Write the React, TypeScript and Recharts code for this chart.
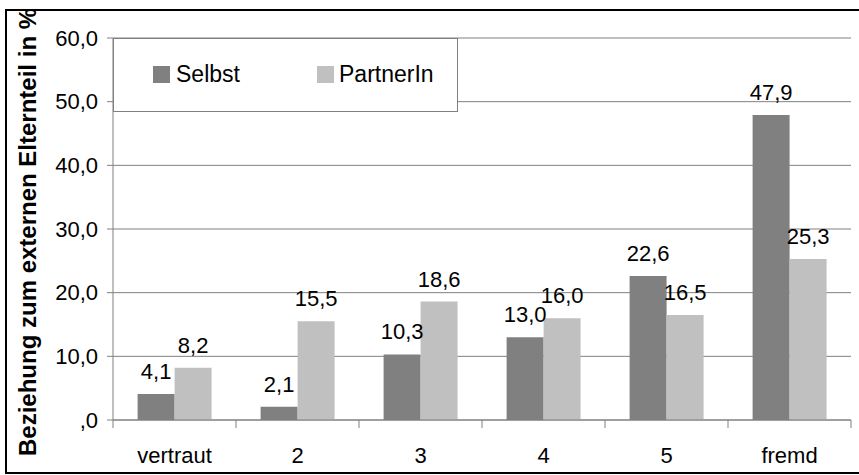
import React from 'react';
import { BarChart, Bar, XAxis, YAxis, CartesianGrid, Legend, LabelList } from 'recharts';

const categories = ['vertraut', '2', '3', '4', '5', 'fremd'];
const selbst = [4.1, 2.1, 10.3, 13.0, 22.6, 47.9];
const partnerIn = [8.2, 15.5, 18.6, 16.0, 16.5, 25.3];
const yTicks = [0, 10, 20, 30, 40, 50, 60];
const seriesNames = ['Selbst', 'PartnerIn'];
const seriesColors = ['#808080', '#c0c0c0'];
const yTitle = 'Beziehung zum externen Elternteil in %';

const data = categories.map((c, i) => ({ name: c, Selbst: selbst[i], PartnerIn: partnerIn[i] }));

const W = 859;
const H = 475;
const margin = { top: 38, right: 8, bottom: 25, left: 53 };
const Y_W = 60;
const plotLeft = margin.left + Y_W;
const plotW = W - plotLeft - margin.right;
const band = plotW / categories.length;
const FONT = 'Arial, "Liberation Sans", sans-serif';

const fmt = (v: number) => (v === 0 ? ',0' : v.toFixed(1).replace('.', ','));

const XTick = (props: any) => {
  const { x, y, payload } = props;
  const half = band / 2;
  const isLast = payload.value === categories[categories.length - 1];
  return (
    <g>
      <line x1={x - half} x2={x - half} y1={y} y2={y + 8} stroke="#808080" strokeWidth={1} />
      {isLast && <line x1={x + half} x2={x + half} y1={y} y2={y + 8} stroke="#808080" strokeWidth={1} />}
      <text x={x} y={y + 43} textAnchor="middle" fontSize={22} fill="#000" fontFamily={FONT}>
        {payload.value}
      </text>
    </g>
  );
};

const TitleLabel = () => {
  const cx = 36;
  const cy = 232;
  return (
    <text
      x={cx}
      y={cy}
      transform={`rotate(-90, ${cx}, ${cy})`}
      textAnchor="middle"
      fontSize={24}
      fontWeight="bold"
      fill="#000"
      fontFamily={FONT}
    >
      {yTitle}
    </text>
  );
};

const LegendBox = () => {
  const items = [
    { sq: 40, tx: 63 },
    { sq: 204, tx: 226 },
  ];
  return (
    <div
      style={{
        width: 345,
        height: 74,
        boxSizing: 'border-box',
        border: '1px solid #808080',
        background: '#fff',
        position: 'relative',
        fontFamily: FONT,
        fontSize: 23,
        color: '#000',
      }}
    >
      {seriesNames.map((n, i) => (
        <React.Fragment key={n}>
          <div
            style={{
              position: 'absolute',
              left: items[i].sq - 1,
              top: 27,
              width: 17,
              height: 17,
              background: seriesColors[i],
            }}
          />
          <div
            style={{
              position: 'absolute',
              left: items[i].tx - 1,
              top: 20,
              lineHeight: '30px',
              whiteSpace: 'nowrap',
            }}
          >
            {n}
          </div>
        </React.Fragment>
      ))}
    </div>
  );
};

export default function App() {
  return (
    <div style={{ position: 'absolute', left: 0, top: 0, width: W, height: H, background: '#fff' }}>
      <div
        style={{
          position: 'absolute',
          left: 5,
          top: 9,
          width: W - 5,
          height: 465,
          boxSizing: 'border-box',
          borderTop: '2px solid #000',
          borderLeft: '2px solid #000',
          borderBottom: '2px solid #000',
          overflow: 'hidden',
        }}
      >
        <div style={{ position: 'absolute', left: -7, top: -11 }}>
          <BarChart
            width={W}
            height={H}
            data={data}
            margin={margin}
            barCategoryGap="20%"
            barGap={0}
          >
            <CartesianGrid vertical={false} stroke="#808080" strokeWidth={1} />
            <XAxis
              dataKey="name"
              stroke="#808080"
              tickLine={false}
              tickSize={0}
              tickMargin={0}
              height={30}
              interval={0}
              tick={<XTick />}
            />
            <YAxis
              width={Y_W}
              domain={[0, 60]}
              ticks={yTicks}
              interval={0}
              stroke="#808080"
              tickSize={6}
              tickMargin={9}
              tickFormatter={fmt}
              tick={{ fill: '#000', fontSize: 22, fontFamily: FONT }}
              label={<TitleLabel />}
            />
            <Legend
              layout="horizontal"
              verticalAlign="middle"
              align="center"
              content={<LegendBox />}
              wrapperStyle={{ left: 113, top: 38, width: 345, height: 74 }}
            />
            {seriesNames.map((n, i) => (
              <Bar key={n} dataKey={n} fill={seriesColors[i]} isAnimationActive={false}>
                <LabelList
                  dataKey={n}
                  position="top"
                  offset={15}
                  formatter={(v: any) => fmt(Number(v))}
                  style={{ fill: '#000', fontSize: 22, fontFamily: FONT }}
                />
              </Bar>
            ))}
          </BarChart>
        </div>
      </div>
    </div>
  );
}
